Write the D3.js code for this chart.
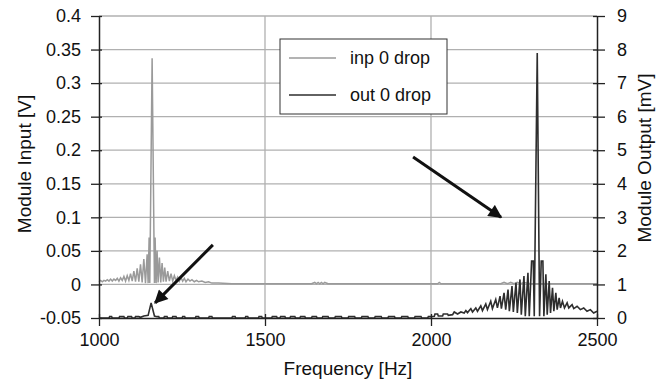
<!DOCTYPE html>
<html><head><meta charset="utf-8">
<script src="https://cdn.jsdelivr.net/npm/d3@7"></script>
<style>
body{margin:0;background:#fff;}
svg text{font-family:"Liberation Sans",Arial,sans-serif;fill:#111;}
</style></head>
<body><svg id="c" width="656" height="382"></svg>
<script>
// ---- data ----
const xTicks = [1000, 1500, 2000, 2500];
const leftTicks = [-0.05, 0, 0.05, 0.1, 0.15, 0.2, 0.25, 0.3, 0.35, 0.4];
const rightTicks = [0, 1, 2, 3, 4, 5, 6, 7, 8, 9];
const seriesNames = ["inp 0 drop", "out 0 drop"];

// input (left axis, V)
const inpFreq = [1000,1005,1010,1015,1020,1025,1030,1035,1040,1045,1050,1055,1060,1065,1070,1075,1080,1085,1090,1095,1100,1105,1110,1115,1120,1125,1130,1135,1140,1145,1148,1151,1153,1160,1167,1169,1172,1175,1178,1182,1186,1190,1194,1198,1202,1207,1212,1217,1222,1227,1232,1237,1242,1247,1252,1257,1262,1268,1274,1280,1287,1294,1300,1310,1320,1330,1340,1360,1400,1500,1640,1650,1655,1660,1665,1670,1675,1680,1690,2020,2025,2030,2040,2210,2220,2230,2240,2250,2260,2270,2280,2300,2500];
const inpVolt = [0.004,0.006,0.004,0.006,0.005,0.007,0.005,0.008,0.005,0.008,0.006,0.009,0.005,0.010,0.006,0.012,0.005,0.013,0.006,0.016,0.005,0.020,0.004,0.024,0.004,0.030,0.003,0.038,0.002,0.045,0.002,0.070,0.002,0.337,0.002,0.070,0.002,0.050,0.003,0.040,0.003,0.032,0.004,0.025,0.004,0.020,0.005,0.016,0.005,0.013,0.006,0.011,0.005,0.010,0.005,0.009,0.004,0.008,0.005,0.007,0.004,0.006,0.004,0.005,0.003,0.004,0.002,0.002,0.001,0.001,0.001,0.003,0.001,0.003,0.001,0.003,0.001,0.003,0.001,0.001,0.003,0.001,0.001,0.001,0.003,0.001,0.003,0.001,0.003,0.001,0.003,0.001,0.001];

// output (right axis, mV)
const outFreq = [1000,1030,1032,1038,1040,1060,1062,1075,1077,1085,1087,1098,1100,1108,1110,1120,1125,1135,1148,1157,1167,1175,1180,1182,1195,1197,1205,1207,1220,1222,1232,1234,1250,1252,1258,1260,1290,1292,1300,1302,1330,1332,1340,1342,1400,1402,1410,1412,1440,1442,1448,1450,1480,1482,1490,1492,1520,1522,1535,1537,1545,1547,1560,1562,1575,1577,1590,1592,1605,1607,1620,1622,1640,1642,1655,1657,1672,1674,1690,1692,1710,1712,1730,1732,1750,1752,1770,1772,1790,1792,1810,1812,1830,1832,1850,1852,1870,1872,1890,1892,1910,1912,1930,1932,1950,1952,1970,1972,1990,1992,2000,2010,2012,2020,2022,2035,2037,2050,2052,2065,2070,2080,2090,2100,2105,2110,2120,2125,2135,2140,2150,2155,2165,2170,2180,2185,2195,2200,2208,2212,2220,2225,2232,2236,2244,2248,2256,2260,2268,2272,2280,2284,2292,2296,2303,2308,2311,2320,2327,2332,2337,2340,2346,2350,2356,2360,2366,2370,2376,2380,2386,2390,2396,2402,2410,2415,2425,2430,2440,2450,2460,2470,2480,2490,2500];
const outMilliV = [0,0,0.04,0.04,0,0,0.04,0.04,0,0,0.04,0.04,0,0,0.04,0.04,0.02,0.06,0.08,0.45,0.06,0.04,0.04,0,0,0.04,0.04,0,0,0.04,0.04,0,0,0.04,0.04,0,0,0.04,0.04,0,0,0.04,0.04,0,0,0.04,0.04,0,0,0.04,0.04,0,0,0.04,0.04,0,0,0.04,0.04,0,0,0.04,0.04,0,0,0.04,0.04,0,0,0.04,0.04,0,0,0.04,0.04,0,0,0.04,0.04,0,0,0.04,0.04,0,0,0.04,0.04,0,0,0.04,0.04,0,0,0.04,0.04,0,0,0.04,0.04,0,0,0.04,0.04,0,0,0.04,0.04,0,0,0.04,0.04,0.05,0.12,0.12,0.06,0.06,0.12,0.12,0.08,0.1,0.18,0.12,0.18,0.15,0.22,0.16,0.28,0.18,0.3,0.2,0.36,0.22,0.42,0.25,0.5,0.28,0.55,0.3,0.65,0.28,0.75,0.25,0.85,0.2,0.95,0.18,1.05,0.15,1.15,0.1,1.25,0.05,1.35,0.05,1.7,1.7,0.05,7.9,0.05,1.7,1.7,0.05,1.3,0.1,1.1,0.15,0.9,0.2,0.75,0.25,0.6,0.3,0.5,0.3,0.45,0.3,0.4,0.28,0.35,0.25,0.3,0.2,0.25,0.15,0.2];

// annotation arrows (freq, mV on right axis): tail -> tip
const arrowTail = [[1343, 2.18], [1946, 4.8]];
const arrowTip  = [[1169, 0.45], [2211, 3.0]];

// ---- chart ----
const svg = d3.select("#c");
const L = 99, R = 597, T = 16, B = 318;
const x = d3.scaleLinear().domain([1000, 2500]).range([L, R]);
const yL = d3.scaleLinear().domain([-0.05, 0.4]).range([B, T]);
const yR = d3.scaleLinear().domain([0, 9]).range([B, T]);

const gridC = "#b0b0b0";
// grid
svg.append("g").selectAll("line").data(leftTicks.filter(d => d > -0.05)).join("line")
  .attr("x1", L).attr("x2", R).attr("y1", d => yL(d)).attr("y2", d => yL(d))
  .attr("stroke", gridC).attr("stroke-width", 1.3);
svg.append("g").selectAll("line").data(xTicks.filter(d => d > 1000 && d < 2500)).join("line")
  .attr("x1", d => x(d)).attr("x2", d => x(d)).attr("y1", T).attr("y2", B)
  .attr("stroke", gridC).attr("stroke-width", 1.3);

// series
const inpData = inpFreq.map((f, i) => [f, inpVolt[i]]);
const outData = outFreq.map((f, i) => [f, outMilliV[i]]);
svg.append("path").datum(inpData)
  .attr("d", d3.line().x(d => x(d[0])).y(d => yL(d[1])))
  .attr("fill", "none").attr("stroke", "#9a9a9a").attr("stroke-width", 1.5);
svg.append("path").datum(outData)
  .attr("d", d3.line().x(d => x(d[0])).y(d => yR(d[1])))
  .attr("fill", "none").attr("stroke", "#2e2e2e").attr("stroke-width", 1.6);

// axes
const fs = "18px";
const ax = svg.append("g").attr("transform", `translate(0,${B})`)
  .call(d3.axisBottom(x).tickValues(xTicks).tickFormat(d3.format("d")).tickSizeInner(8).tickSizeOuter(0).tickPadding(7));
const ay = svg.append("g").attr("transform", `translate(${L},0)`)
  .call(d3.axisLeft(yL).tickValues(leftTicks).tickFormat(d => String(+d.toFixed(2))).tickSizeInner(8).tickSizeOuter(0).tickPadding(10));
const ar = svg.append("g").attr("transform", `translate(${R},0)`)
  .call(d3.axisRight(yR).tickValues(rightTicks).tickSizeInner(8).tickSizeOuter(0).tickPadding(12));
[ax, ay, ar].forEach(g => {
  g.select(".domain").attr("stroke", "#222").attr("stroke-width", 1.5);
  g.selectAll(".tick line").attr("stroke", "#222").attr("stroke-width", 1.3);
  g.selectAll("text").attr("font-size", fs).attr("font-family", "Liberation Sans, Arial, sans-serif").attr("fill", "#111");
});
// inner parts of crossing ticks
ax.selectAll(".tick").append("line").attr("y1", 0).attr("y2", -4).attr("stroke", "#222").attr("stroke-width", 1.3);
ay.selectAll(".tick").append("line").attr("x1", 0).attr("x2", 3).attr("stroke", "#222").attr("stroke-width", 1.3);
ar.selectAll(".tick").append("line").attr("x1", 0).attr("x2", -4).attr("stroke", "#222").attr("stroke-width", 1.3);

// titles
svg.append("text").attr("x", 348).attr("y", 375).attr("text-anchor", "middle")
  .attr("font-size", "19px").text("Frequency [Hz]");
svg.append("text").attr("transform", `translate(31,164) rotate(-90)`).attr("text-anchor", "middle")
  .attr("font-size", "19px").text("Module Input [V]");
svg.append("text").attr("transform", `translate(651,158) rotate(-90)`).attr("text-anchor", "middle")
  .attr("font-size", "19px").text("Module Output [mV]");

// legend
const lg = svg.append("g");
lg.append("rect").attr("x", 280).attr("y", 39).attr("width", 167).attr("height", 75)
  .attr("fill", "#fff").attr("stroke", "#333").attr("stroke-width", 1);
const legColors = ["#9a9a9a", "#2e2e2e"];
seriesNames.forEach((n, i) => {
  const yy = 58 + i * 37;
  lg.append("line").attr("x1", 289).attr("x2", 336).attr("y1", yy).attr("y2", yy)
    .attr("stroke", legColors[i]).attr("stroke-width", 1.5);
  lg.append("text").attr("x", 350).attr("y", yy + 6).attr("font-size", "18px").text(n);
});

// arrows
const defs = svg.append("defs");
defs.append("marker").attr("id", "ah").attr("viewBox", "0 0 10 10").attr("refX", 9).attr("refY", 5)
  .attr("markerWidth", 5).attr("markerHeight", 4.5).attr("orient", "auto").attr("markerUnits", "strokeWidth")
  .append("path").attr("d", "M0,0 L10,5 L0,10 Z").attr("fill", "#111");
arrowTail.forEach((t, i) => {
  const h = arrowTip[i];
  svg.append("line").attr("x1", x(t[0])).attr("y1", yR(t[1])).attr("x2", x(h[0])).attr("y2", yR(h[1]))
    .attr("stroke", "#111").attr("stroke-width", 3).attr("marker-end", "url(#ah)");
});
</script></body></html>
